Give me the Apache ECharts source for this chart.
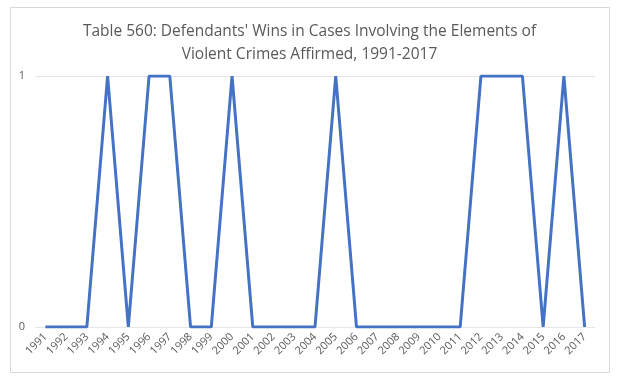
<!DOCTYPE html>
<html><head><meta charset="utf-8">
<script src="https://cdn.jsdelivr.net/npm/echarts@6/dist/echarts.min.js"></script>
<style>html,body{margin:0;padding:0;background:#fff}#c{width:619px;height:380px}</style>
</head><body><div id="c"></div>
<script>
var years = ['1991','1992','1993','1994','1995','1996','1997','1998','1999','2000','2001','2002','2003','2004','2005','2006','2007','2008','2009','2010','2011','2012','2013','2014','2015','2016','2017'];
var wins = [0,0,0,1,0,1,1,0,0,1,0,0,0,0,1,0,0,0,0,0,0,1,1,1,0,1,0];
var yTicks = [0,1];
var titleText = "Table 560: Defendants' Wins in Cases Involving the Elements of\nViolent Crimes Affirmed, 1991-2017";

var chart = echarts.init(document.getElementById('c'));
chart.setOption({
  animation: false,
  graphic: [{type:'rect', shape:{x:10.5,y:7.5,width:599,height:365}, style:{fill:'none',stroke:'#d9d9d9',lineWidth:1}}],
  title: {text: titleText, left: 'center', top: 15,
    textStyle: {fontFamily: 'Open Sans', fontWeight: 'normal', fontSize: 15.5, color: '#595959', lineHeight: 23}},
  grid: {left: 35, right: 24, top: 76, bottom: 53},
  xAxis: {type: 'category', data: years, boundaryGap: true,
    axisLine: {show: false}, axisTick: {show: false},
    axisLabel: {rotate: 45, color: '#595959', fontSize: 11, fontFamily: 'Open Sans', margin: 8, interval: 0}},
  yAxis: {type: 'value', min: yTicks[0], max: yTicks[1], interval: 1,
    axisLine: {show: false}, axisTick: {show: false},
    axisLabel: {color: '#595959', fontSize: 11, fontFamily: 'Open Sans', margin: 10},
    splitLine: {lineStyle: {color: '#e6e6e6', width: 1}}},
  series: [{type: 'line', data: wins, symbol: 'none', lineStyle: {color: '#4472C4', width: 3}}]
});
</script></body></html>
